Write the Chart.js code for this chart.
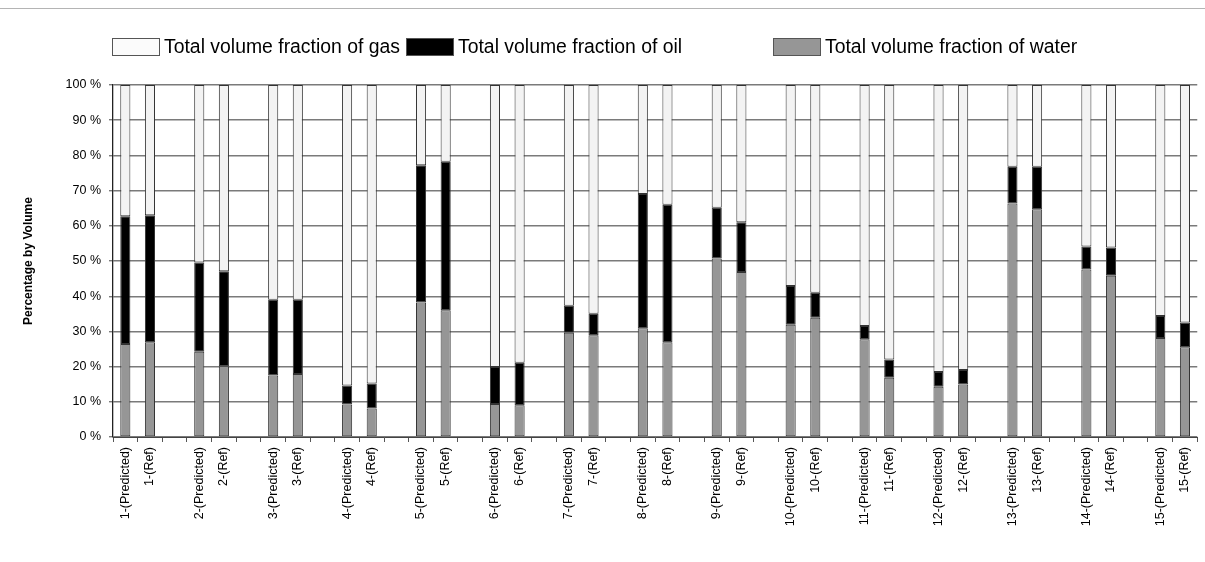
<!DOCTYPE html>
<html>
<head>
  <meta charset="utf-8" />
  <script src="https://cdn.jsdelivr.net/npm/chart.js@4.4.0/dist/chart.umd.min.js"></script>
  <style>
    body { margin:0; background:#fff; width:1205px; height:562px; overflow:hidden; position:relative; font-family:'Liberation Sans', Arial, sans-serif; }
    #topline { position:absolute; left:0; top:8px; width:1205px; height:1px; background:#b4b4b4; }
    #holder { position:absolute; left:0; top:0; width:1205px; height:562px; }
    .lg { position:absolute; top:37px; height:19px; display:flex; align-items:center; font-size:19.4px; color:#000; white-space:nowrap; }
    .lg span.box { width:48px; height:18px; border:1px solid #555; margin-right:4px; box-sizing:border-box; }
  </style>
</head>
<body>
<div id="topline"></div>
<div id="holder"><canvas id="c" width="1205" height="562"></canvas></div>
<div class="lg" style="left:112px"><span class="box" style="background:#fbfbfb"></span>Total volume fraction of gas</div>
<div class="lg" style="left:406px"><span class="box" style="background:#000"></span>Total volume fraction of oil</div>
<div class="lg" style="left:773px"><span class="box" style="background:#969696"></span>Total volume fraction of water</div>

<script>
// categories (blank entries are the gaps between pairs)
const categories = [
  "1-(Predicted)", "1-(Ref)", "",
  "2-(Predicted)", "2-(Ref)", "",
  "3-(Predicted)", "3-(Ref)", "",
  "4-(Predicted)", "4-(Ref)", "",
  "5-(Predicted)", "5-(Ref)", "",
  "6-(Predicted)", "6-(Ref)", "",
  "7-(Predicted)", "7-(Ref)", "",
  "8-(Predicted)", "8-(Ref)", "",
  "9-(Predicted)", "9-(Ref)", "",
  "10-(Predicted)", "10-(Ref)", "",
  "11-(Predicted)", "11-(Ref)", "",
  "12-(Predicted)", "12-(Ref)", "",
  "13-(Predicted)", "13-(Ref)", "",
  "14-(Predicted)", "14-(Ref)", "",
  "15-(Predicted)", "15-(Ref)"
];

// percent by volume
const water = [
  26.4, 26.9, null,  24.2, 20.1, null,  17.5, 17.9, null,  9.2, 8.1, null,
  38.2, 36.0, null,  9.4, 9.0, null,  29.6, 28.9, null,  30.9, 26.9, null,
  50.7, 46.9, null,  31.9, 33.9, null,  27.8, 16.8, null,  14.3, 14.9, null,
  66.3, 64.7, null,  47.6, 45.8, null,  28.1, 25.5
];
const oil = [
  36.3, 36.1, null,  25.4, 27.0, null,  21.5, 21.1, null,  5.4, 7.1, null,
  39.0, 42.2, null,  10.5, 12.1, null,  7.7, 6.1, null,  38.1, 39.1, null,
  14.4, 14.1, null,  11.0, 7.1, null,  3.7, 5.2, null,  4.2, 4.1, null,
  10.5, 12.1, null,  6.5, 8.0, null,  6.3, 7.0
];
const gas = [
  37.3, 37.0, null,  50.4, 52.9, null,  61.0, 61.0, null,  85.4, 84.8, null,
  22.8, 21.8, null,  80.1, 78.9, null,  62.7, 65.0, null,  31.0, 34.0, null,
  34.9, 39.0, null,  57.1, 59.0, null,  68.5, 78.0, null,  81.5, 81.0, null,
  23.2, 23.2, null,  45.9, 46.2, null,  65.6, 67.5
];
const yTicks = [0, 10, 20, 30, 40, 50, 60, 70, 80, 90, 100];

const FONT = "'Liberation Sans', Arial, sans-serif";

function ds(label, data, fill) {
  return {
    label, data, backgroundColor: fill, borderColor: "#333", borderWidth: 1,
    borderSkipped: false, barPercentage: 0.41, categoryPercentage: 1.0, stack: "s"
  };
}

new Chart(document.getElementById("c"), {
  type: "bar",
  data: {
    labels: categories,
    datasets: [
      ds("Total volume fraction of water", water, "#969696"),
      ds("Total volume fraction of oil", oil, "#000000"),
      ds("Total volume fraction of gas", gas, "#f3f3f3")
    ]
  },
  options: {
    responsive: false, animation: false, devicePixelRatio: 1,
    layout: { padding: { top: 85, right: 5, left: 0, bottom: 0 } },
    plugins: { legend: { display: false }, tooltip: { enabled: false } },
    scales: {
      x: {
        stacked: true,
        grid: { drawOnChartArea: false, drawTicks: true, tickLength: 5, color: "#555", offset: true },
        border: { color: "#444", width: 1 },
        ticks: { autoSkip: false, minRotation: 90, maxRotation: 90, padding: 5, color: "#000",
                 font: { family: FONT, size: 12.5 } },
        afterFit: s => { s.height = 125; }
      },
      y: {
        stacked: true, min: 0, max: 100,
        afterBuildTicks: s => { s.ticks = yTicks.map(v => ({ value: v })); },
        grid: { color: "#7a7a7a", lineWidth: 1.4, tickLength: 4 },
        border: { color: "#222", width: 1.3 },
        ticks: { color: "#000", padding: 8, font: { family: FONT, size: 12.5 }, callback: v => v + " %" },
        title: { display: true, text: "Percentage by Volume", color: "#000",
                 font: { family: FONT, size: 12, weight: "bold" }, padding: { top: 21, bottom: 0 } },
        afterFit: s => { s.width = 113; }
      }
    }
  }
});
</script>
</body>
</html>
